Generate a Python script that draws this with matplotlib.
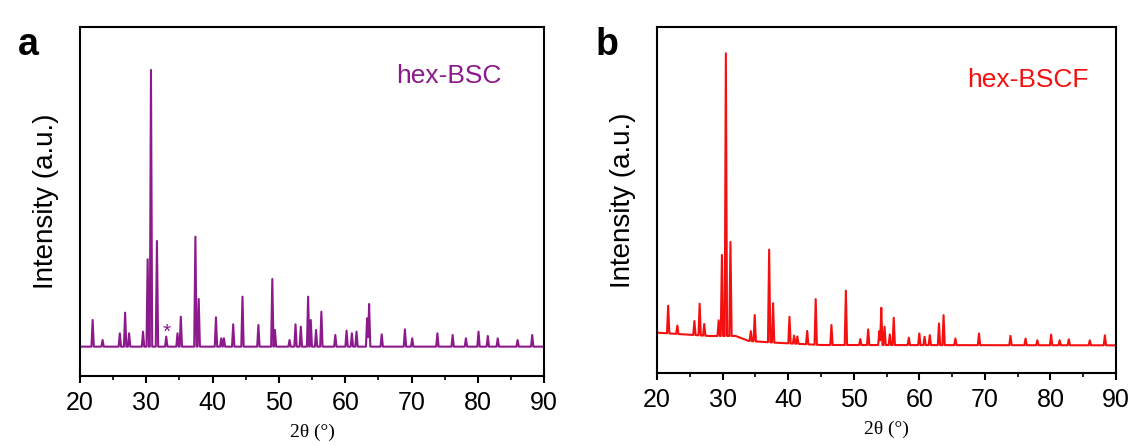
import numpy as np
import matplotlib
matplotlib.use("Agg")
import matplotlib.pyplot as plt
from matplotlib.ticker import MultipleLocator

plt.rcParams['font.family'] = ['Liberation Sans', 'DejaVu Sans']

# hex-BSC (panel a): peak position (deg), peak height above background
bsc_pos = [21.9, 23.4, 26.0, 26.8, 27.4, 29.5, 30.2, 30.7, 31.6, 33.0,
           34.7, 35.2, 37.4, 37.9, 40.5, 41.3, 41.7, 43.1, 44.5, 46.9,
           49.0, 49.4, 51.6, 52.5, 53.3, 54.4, 54.8, 55.6, 56.4, 58.5,
           60.2, 61.0, 61.7, 63.3, 63.6, 65.5, 69.0, 70.1, 73.9, 76.2,
           78.2, 80.1, 81.5, 83.0, 86.0, 88.2]
bsc_h = [80, 20, 40, 102, 40, 45, 262, 830, 317, 30,
         40, 90, 330, 143, 88, 25, 25, 67, 150, 65,
         203, 50, 20, 67, 60, 150, 80, 50, 105, 35,
         48, 40, 45, 85, 128, 37, 52, 25, 40, 35,
         25, 45, 32, 25, 20, 35]
bsc_bg_x = [20, 90]
bsc_bg_y = [80, 80]

# hex-BSCF (panel b)
bscf_pos = [21.7, 23.1, 25.7, 26.5, 27.2, 29.4, 29.9, 30.5, 31.2, 34.3,
            34.9, 37.1, 37.7, 40.2, 40.9, 41.4, 42.9, 44.2, 46.6, 48.8,
            51.0, 52.2, 53.9, 54.2, 54.7, 55.5, 56.1, 58.4, 60.0, 60.8,
            61.6, 63.0, 63.7, 65.5, 69.1, 73.9, 76.2, 78.0, 80.1, 81.4,
            82.8, 86.0, 88.3]
bscf_h = [83, 25, 42, 95, 35, 47, 243, 848, 282, 30,
          79, 278, 118, 80, 24, 22, 40, 137, 60, 163,
          18, 47, 42, 112, 55, 32, 82, 22, 35, 25,
          30, 65, 90, 20, 35, 28, 20, 15, 32, 15,
          18, 15, 30]
bscf_bg_x = [20, 28, 32, 34, 38, 45, 90]
bscf_bg_y = [122, 112, 112, 97, 92, 85, 84]

HW = 0.18  # half width of each peak at its foot


def pattern(pos, h, bg_x, bg_y):
    pos = np.array(pos, float)
    xv = np.concatenate([bg_x, pos - HW, pos, pos + HW])
    xv = np.unique(xv[(xv >= 20) & (xv <= 90)])
    yv = np.interp(xv, bg_x, bg_y)
    for p, hh in zip(pos, h):
        yv = yv + np.interp(xv, [p - HW, p, p + HW], [0, hh, 0])
    return xv, yv


def style(ax):
    ax.set_xlim(20, 90)
    ax.xaxis.set_major_locator(MultipleLocator(10))
    ax.xaxis.set_minor_locator(MultipleLocator(5))
    ax.set_yticks([])
    for s in ax.spines.values():
        s.set_linewidth(1.5)
    ax.tick_params(axis='x', which='major', direction='out', length=5, width=1.5,
                   labelsize=18, pad=6, top=False)
    ax.tick_params(axis='x', which='minor', direction='out', length=3, width=1.2, top=False)
    ax.set_xlabel('2θ (°)', fontsize=14, family=['Liberation Serif', 'DejaVu Serif'], labelpad=6)
    ax.set_ylabel('Intensity (a.u.)', fontsize=20, labelpad=15)


fig = plt.figure(figsize=(11.32, 4.46), dpi=100)
ax1 = fig.add_axes([0.0707, 0.157, 0.41, 0.7825])
ax2 = fig.add_axes([0.5804, 0.1637, 0.4055, 0.7758])

purple = '#8C1A8C'
x, y = pattern(bsc_pos, bsc_h, bsc_bg_x, bsc_bg_y)
ax1.plot(x, y, color=purple, lw=1.5)
ax1.set_ylim(-8, 1039)
style(ax1)
ax1.text(0.909, 0.84, 'hex-BSC', transform=ax1.transAxes, color=purple,
         fontsize=19, ha='right', va='baseline')
ax1.text(33.0, 122, '*', color=purple, fontsize=15, ha='center', va='center')

x, y = pattern(bscf_pos, bscf_h, bscf_bg_x, bscf_bg_y)
ax2.plot(x, y, color='#F41010', lw=1.5)
ax2.set_ylim(1, 1039)
style(ax2)
ax2.text(0.939, 0.827, 'hex-BSCF', transform=ax2.transAxes, color='#F41010',
         fontsize=19, ha='right', va='baseline')

fig.text(18 / 1132, 1 - 55 / 446, 'a', fontsize=27, fontweight='bold', ha='left', va='baseline')
fig.text(596 / 1132, 1 - 55 / 446, 'b', fontsize=27, fontweight='bold', ha='left', va='baseline')

fig.savefig('out.png', dpi=100)
